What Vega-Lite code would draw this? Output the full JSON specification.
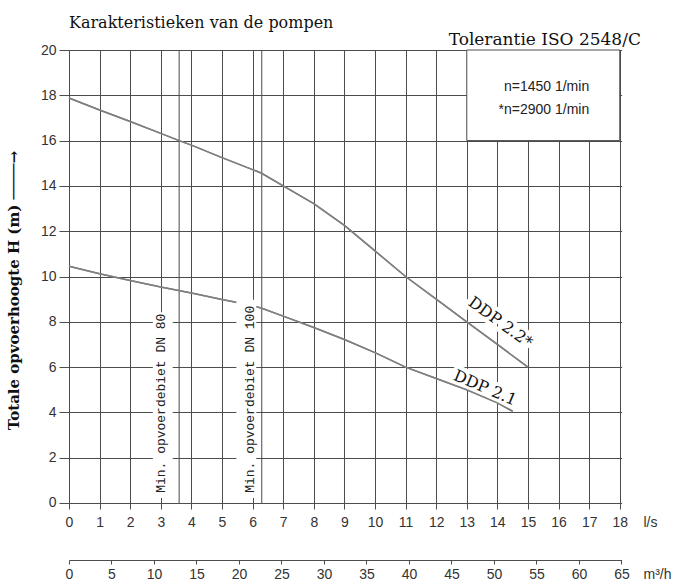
{
  "$schema": "https://vega.github.io/schema/vega-lite/v6.json",
  "width": 552.6,
  "height": 453,
  "autosize": {"type": "none"},
  "padding": {"left": 69, "top": 50, "right": 58, "bottom": 79},
  "background": "white",
  "config": {"view": {"stroke": null}},
  "title": {"text": "Karakteristieken van de pompen", "anchor": "start", "frame": "group", "font": "DejaVu Serif", "fontSize": 16, "fontWeight": "normal", "color": "#111", "baseline": "alphabetic", "offset": 5, "dy": 18},
  "datasets": {
    "curves": [
      {"pump": "DDP 2.2", "q": 0, "h": 17.88},
      {"pump": "DDP 2.2", "q": 1, "h": 17.35},
      {"pump": "DDP 2.2", "q": 2, "h": 16.84},
      {"pump": "DDP 2.2", "q": 3, "h": 16.32},
      {"pump": "DDP 2.2", "q": 3.6, "h": 16.0},
      {"pump": "DDP 2.2", "q": 4, "h": 15.8},
      {"pump": "DDP 2.2", "q": 5, "h": 15.25},
      {"pump": "DDP 2.2", "q": 6, "h": 14.72},
      {"pump": "DDP 2.2", "q": 6.28, "h": 14.57},
      {"pump": "DDP 2.2", "q": 7, "h": 14.0},
      {"pump": "DDP 2.2", "q": 8, "h": 13.22},
      {"pump": "DDP 2.2", "q": 9, "h": 12.26},
      {"pump": "DDP 2.2", "q": 10, "h": 11.13},
      {"pump": "DDP 2.2", "q": 11, "h": 10.0},
      {"pump": "DDP 2.2", "q": 12, "h": 9.0},
      {"pump": "DDP 2.2", "q": 13, "h": 8.0},
      {"pump": "DDP 2.2", "q": 14, "h": 7.0},
      {"pump": "DDP 2.2", "q": 15, "h": 6.0},
      {"pump": "DDP 2.1", "q": 0, "h": 10.45},
      {"pump": "DDP 2.1", "q": 1, "h": 10.12},
      {"pump": "DDP 2.1", "q": 2, "h": 9.82},
      {"pump": "DDP 2.1", "q": 3, "h": 9.54},
      {"pump": "DDP 2.1", "q": 4, "h": 9.27},
      {"pump": "DDP 2.1", "q": 5, "h": 8.98},
      {"pump": "DDP 2.1", "q": 6, "h": 8.72},
      {"pump": "DDP 2.1", "q": 6.3, "h": 8.6},
      {"pump": "DDP 2.1", "q": 7, "h": 8.25},
      {"pump": "DDP 2.1", "q": 8, "h": 7.75},
      {"pump": "DDP 2.1", "q": 9, "h": 7.22},
      {"pump": "DDP 2.1", "q": 10, "h": 6.64},
      {"pump": "DDP 2.1", "q": 11, "h": 6.0},
      {"pump": "DDP 2.1", "q": 12, "h": 5.5},
      {"pump": "DDP 2.1", "q": 13, "h": 5.0},
      {"pump": "DDP 2.1", "q": 14, "h": 4.42},
      {"pump": "DDP 2.1", "q": 14.5, "h": 4.05}
    ],
    "extraLines": [{"q": 3.6}, {"q": 6.3}],
    "legendBox": [{"q1": 13, "q2": 18, "h1": 16, "h2": 20}],
    "minMasks": [
      {"q1": 2.74, "q2": 3.39, "h1": 0.22, "h2": 8.42},
      {"q1": 5.47, "q2": 6.12, "h1": 0.22, "h2": 8.97}
    ],
    "minLabels": [
      {"q": 3.0, "h": 0.45, "label": "Min. opvoerdebiet DN 80"},
      {"q": 5.93, "h": 0.45, "label": "Min.  opvoerdebiet DN 100"}
    ],
    "ddpLabels": [
      {"q": 14.1, "h": 7.97, "label": "DDP 2.2*"},
      {"q": 13.6, "h": 5.08, "label": "DDP 2.1"}
    ],
    "notes": [
      {"q": 17.0, "h": 18.36, "label": "n=1450 1/min"},
      {"q": 17.0, "h": 17.35, "label": "*n=2900 1/min"}
    ],
    "tolerance": [{"q": 18.69, "h": 20.43, "label": "Tolerantie ISO 2548/C"}]
  },
  "resolve": {"axis": {"x": "independent", "y": "independent"}},
  "layer": [
    {
      "data": {"name": "extraLines"},
      "mark": {"type": "rule", "stroke": "#4a4a4a", "strokeWidth": 1},
      "encoding": {
        "x": {"field": "q", "type": "quantitative", "scale": {"domain": [0, 18.06], "nice": false, "zero": false}, "axis": null}
      }
    },
    {
      "data": {"name": "curves"},
      "mark": {"type": "line", "stroke": "#7f7f7f", "strokeWidth": 1.5},
      "encoding": {
        "x": {
          "field": "q", "type": "quantitative",
          "scale": {"domain": [0, 18.06], "nice": false, "zero": false},
          "axis": {
            "orient": "bottom",
            "values": [0, 1, 2, 3, 4, 5, 6, 7, 8, 9, 10, 11, 12, 13, 14, 15, 16, 17, 18],
            "grid": true, "gridColor": "#4a4a4a", "gridWidth": 1, "gridOpacity": 1,
            "domain": false,
            "ticks": true, "tickSize": 6, "tickColor": "#4a4a4a", "tickWidth": 1,
            "labelFont": "Liberation Sans", "labelFontSize": 14, "labelColor": "#333",
            "labelPadding": 7, "labelFlush": false, "labelOverlap": false,
            "title": "l/s", "titleFont": "Liberation Sans", "titleFontSize": 14, "titleFontWeight": "normal", "titleColor": "#333",
            "titleX": 574, "titleY": 20, "titleAlign": "left", "titleBaseline": "middle"
          }
        },
        "y": {
          "field": "h", "type": "quantitative",
          "scale": {"domain": [0, 20], "nice": false},
          "axis": {
            "orient": "left",
            "values": [0, 2, 4, 6, 8, 10, 12, 14, 16, 18, 20],
            "grid": true, "gridColor": "#4a4a4a", "gridWidth": 1, "gridOpacity": 1,
            "domain": false,
            "tickSize": 10, "tickColor": "#4a4a4a", "tickWidth": 1,
            "labelFont": "Liberation Sans", "labelFontSize": 14, "labelColor": "#333", "labelPadding": 3,
            "title": "Totale opvoerhoogte H (m)  ────→",
            "titleFont": "DejaVu Serif", "titleFontSize": 15, "titleFontWeight": "bold", "titleColor": "#111",
            "titleAngle": 270, "titleX": -50, "titleY": 240, "titleAlign": "center", "titleBaseline": "alphabetic"
          }
        },
        "detail": {"field": "pump"}
      }
    },
    {
      "data": {"name": "legendBox"},
      "mark": {"type": "rect", "fill": "white", "stroke": "#4a4a4a", "strokeWidth": 1},
      "encoding": {
        "x": {"field": "q1", "type": "quantitative", "scale": {"domain": [0, 18.06], "nice": false, "zero": false}, "axis": null},
        "x2": {"field": "q2"},
        "y": {"field": "h1", "type": "quantitative", "scale": {"domain": [0, 20], "nice": false}, "axis": null},
        "y2": {"field": "h2"}
      }
    },
    {
      "data": {"name": "ddpLabels"},
      "transform": [{"filter": "datum.label == 'DDP 2.2*'"}],
      "mark": {"type": "text", "angle": 36, "align": "center", "baseline": "middle", "font": "DejaVu Serif", "fontSize": 16, "fill": "white", "stroke": "white", "strokeWidth": 8},
      "encoding": {
        "x": {"field": "q", "type": "quantitative", "scale": {"domain": [0, 18.06], "nice": false, "zero": false}, "axis": null},
        "y": {"field": "h", "type": "quantitative", "scale": {"domain": [0, 20], "nice": false}, "axis": null},
        "text": {"field": "label"}
      }
    },
    {
      "data": {"name": "ddpLabels"},
      "transform": [{"filter": "datum.label == 'DDP 2.1'"}],
      "mark": {"type": "text", "angle": 23, "align": "center", "baseline": "middle", "font": "DejaVu Serif", "fontSize": 16, "fill": "white", "stroke": "white", "strokeWidth": 8},
      "encoding": {
        "x": {"field": "q", "type": "quantitative", "scale": {"domain": [0, 18.06], "nice": false, "zero": false}, "axis": null},
        "y": {"field": "h", "type": "quantitative", "scale": {"domain": [0, 20], "nice": false}, "axis": null},
        "text": {"field": "label"}
      }
    },
    {
      "data": {"name": "curves"},
      "mark": {"type": "line", "stroke": "#7f7f7f", "strokeWidth": 1.5},
      "encoding": {
        "x": {"field": "q", "type": "quantitative", "scale": {"domain": [0, 18.06], "nice": false, "zero": false}, "axis": null},
        "y": {"field": "h", "type": "quantitative", "scale": {"domain": [0, 20], "nice": false}, "axis": null},
        "detail": {"field": "pump"}
      }
    },
    {
      "data": {"name": "minMasks"},
      "mark": {"type": "rect", "fill": "white", "strokeWidth": 0},
      "encoding": {
        "x": {"field": "q1", "type": "quantitative", "scale": {"domain": [0, 18.06], "nice": false, "zero": false}, "axis": null},
        "x2": {"field": "q2"},
        "y": {"field": "h1", "type": "quantitative", "scale": {"domain": [0, 20], "nice": false}, "axis": null},
        "y2": {"field": "h2"}
      }
    },
    {
      "data": {"name": "minLabels"},
      "mark": {"type": "text", "angle": 270, "align": "left", "baseline": "middle", "font": "Liberation Mono", "fontSize": 13, "fill": "#222"},
      "encoding": {
        "x": {"field": "q", "type": "quantitative", "scale": {"domain": [0, 18.06], "nice": false, "zero": false}, "axis": null},
        "y": {"field": "h", "type": "quantitative", "scale": {"domain": [0, 20], "nice": false}, "axis": null},
        "text": {"field": "label"}
      }
    },
    {
      "data": {"name": "ddpLabels"},
      "transform": [{"filter": "datum.label == 'DDP 2.2*'"}],
      "mark": {"type": "text", "angle": 36, "align": "center", "baseline": "middle", "font": "DejaVu Serif", "fontSize": 16, "fill": "#111"},
      "encoding": {
        "x": {"field": "q", "type": "quantitative", "scale": {"domain": [0, 18.06], "nice": false, "zero": false}, "axis": null},
        "y": {"field": "h", "type": "quantitative", "scale": {"domain": [0, 20], "nice": false}, "axis": null},
        "text": {"field": "label"}
      }
    },
    {
      "data": {"name": "ddpLabels"},
      "transform": [{"filter": "datum.label == 'DDP 2.1'"}],
      "mark": {"type": "text", "angle": 23, "align": "center", "baseline": "middle", "font": "DejaVu Serif", "fontSize": 16, "fill": "#111"},
      "encoding": {
        "x": {"field": "q", "type": "quantitative", "scale": {"domain": [0, 18.06], "nice": false, "zero": false}, "axis": null},
        "y": {"field": "h", "type": "quantitative", "scale": {"domain": [0, 20], "nice": false}, "axis": null},
        "text": {"field": "label"}
      }
    },
    {
      "data": {"name": "notes"},
      "mark": {"type": "text", "align": "right", "baseline": "middle", "font": "Liberation Sans", "fontSize": 14, "fill": "#222"},
      "encoding": {
        "x": {"field": "q", "type": "quantitative", "scale": {"domain": [0, 18.06], "nice": false, "zero": false}, "axis": null},
        "y": {"field": "h", "type": "quantitative", "scale": {"domain": [0, 20], "nice": false}, "axis": null},
        "text": {"field": "label"}
      }
    },
    {
      "data": {"name": "tolerance"},
      "mark": {"type": "text", "align": "right", "baseline": "middle", "font": "DejaVu Serif", "fontSize": 17, "fill": "#111"},
      "encoding": {
        "x": {
          "field": "q", "type": "quantitative",
          "scale": {"domain": [0, 18.06], "nice": false, "zero": false},
          "axis": {
            "orient": "bottom", "offset": 57,
            "values": [0, 1.388889, 2.777778, 4.166667, 5.555556, 6.944444, 8.333333, 9.722222, 11.111111, 12.5, 13.888889, 15.277778, 16.666667, 18.055556],
            "labelExpr": "format(datum.value * 3.6, '.0f')",
            "grid": false,
            "domain": true, "domainColor": "#4a4a4a", "domainWidth": 1,
            "ticks": true, "tickSize": 4, "tickColor": "#4a4a4a", "tickWidth": 1,
            "encoding": {"ticks": {"update": {"y": {"value": -4}}}},
            "labelFont": "Liberation Sans", "labelFontSize": 14, "labelColor": "#333",
            "labelPadding": 4, "labelFlush": false, "labelOverlap": false,
            "title": "m³/h", "titleFont": "Liberation Sans", "titleFontSize": 14, "titleFontWeight": "normal", "titleColor": "#333",
            "titleX": 574, "titleY": 15, "titleAlign": "left", "titleBaseline": "middle"
          }
        },
        "y": {"field": "h", "type": "quantitative", "scale": {"domain": [0, 20], "nice": false}, "axis": null},
        "text": {"field": "label"}
      }
    }
  ]
}
